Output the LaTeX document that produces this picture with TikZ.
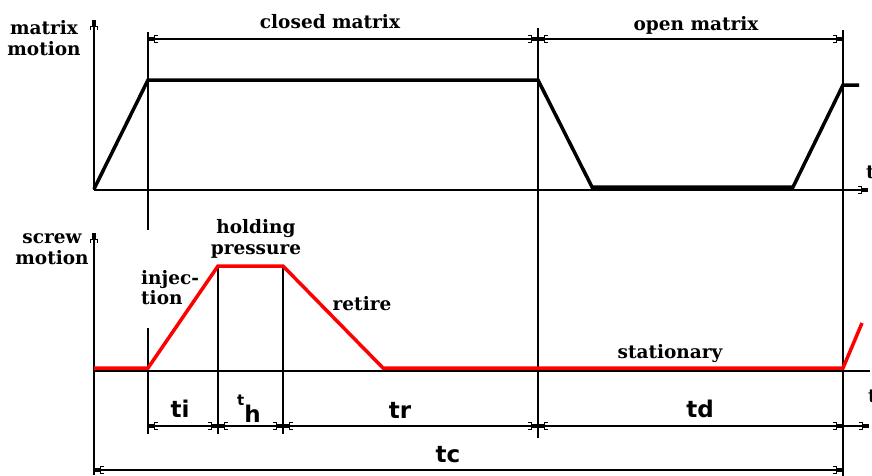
\documentclass[tikz,border=0pt]{standalone}
\usepackage{fontspec}
\setmainfont{DejaVu Serif}
\newfontfamily\dimfont{DejaVu Sans}
\usetikzlibrary{arrows.meta}
\tikzset{
  dimtip/.tip={Bracket[width=8pt,length=3.5pt,line width=1pt] Square[length=6pt,width=4.5pt]},
  thinln/.style={line width=1.5pt},
  dimln/.style={line width=1.2pt,{dimtip}-{dimtip}},
  curve/.style={line width=3.5pt,line join=miter},
  redcurve/.style={line width=3.5pt,red},
  lbl/.style={font=\bfseries\fontsize{18.5}{20.5}\selectfont,align=center,inner sep=0pt},
  dlbl/.style={font=\dimfont\bfseries\fontsize{23}{25}\selectfont,inner sep=0pt},
}
\begin{document}
\begin{tikzpicture}[x=1pt,y=-1pt]
\useasboundingbox (0,0) rectangle (872,475);
% key coordinates
\coordinate (A0) at (94,189);
\coordinate (A1) at (148,80);
\coordinate (A2) at (538,80);
\coordinate (A3) at (592,187);
\coordinate (A4) at (793,187);
\coordinate (A5) at (843,85);
\coordinate (A6) at (859,85);
\coordinate (R0) at (94,368);
\coordinate (R1) at (148,368);
\coordinate (R2) at (218,266);
\coordinate (R3) at (283,266);
\coordinate (R4) at (383,368);
\coordinate (R5) at (843,368);
\coordinate (R6) at (862,323);
% axes
\coordinate (UAb) at (94,190);
\coordinate (UAt) at (94,20);
\coordinate (UAr) at (868,190);
\coordinate (LAb) at (94,475);
\coordinate (LAt) at (94,233);
\coordinate (LAo) at (94,371);
\coordinate (LAr) at (870,371);
\draw[thinln,-{dimtip}] (UAb) -- (UAt);
\draw[thinln,-{dimtip}] (UAb) -- (UAr);
\draw[thinln,-{dimtip}] (LAb) -- (LAt);
\draw[thinln] (LAo) -- (LAr);
% vertical guide lines
\coordinate (V1a) at (148,32);  \coordinate (V1b) at (148,230);
\coordinate (V1c) at (148,328); \coordinate (V1d) at (148,434);
\coordinate (V2b) at (218,434); \coordinate (V3b) at (283,434);
\coordinate (V4a) at (538,28);  \coordinate (V4b) at (538,438);
\coordinate (V5a) at (843,30);  \coordinate (V5b) at (843,476);
\draw[thinln] (V1a) -- (V1b);
\draw[thinln] (V1c) -- (V1d);
\draw[thinln] (R2) -- (V2b);
\draw[thinln] (R3) -- (V3b);
\draw[thinln] (V4a) -- (V4b);
\draw[thinln] (V5a) -- (V5b);
% curves
\draw[curve] (A0) -- (A1) -- (A2) -- (A3) -- (A4) -- (A5) -- (A6);
\draw[redcurve] (R0) -- (R1) -- (R2) -- (R3) -- (R4) -- (R5) -- (R6);
% dimension lines
\coordinate (D1) at (148,39); \coordinate (D2) at (538,39); \coordinate (D3) at (843,39);
\draw[dimln] (D1) -- (D2);
\draw[dimln] (D2) -- (D3);
\coordinate (E1) at (148,426); \coordinate (E2) at (218,426); \coordinate (E3) at (283,426);
\coordinate (E4) at (538,426); \coordinate (E5) at (843,426); \coordinate (E6) at (869,426);
\draw[dimln] (E1) -- (E2);
\draw[dimln] (E2) -- (E3);
\draw[dimln] (E3) -- (E4);
\draw[dimln] (E4) -- (E5);
\draw[line width=1.2pt,-{dimtip}] (E5) -- (E6);
\coordinate (C1) at (94,470); \coordinate (C2) at (843,470);
\draw[dimln] (C1) -- (C2);
% labels
\node[lbl] (mm) at (44,38) {matrix\\motion};
\node[lbl,anchor=base] (cm) at (330,28) {closed matrix};
\node[lbl,anchor=base] (om) at (696,30) {open matrix};
\node[lbl,anchor=base west] (tt) at (866,178) {t};
\node[lbl,anchor=base west] (tb) at (868,402) {t};
\node[lbl] (sm) at (52,249) {screw\\motion};
\node[lbl] (hp) at (256,239) {holding\\pressure};
\node[lbl,align=left,anchor=north west] (inj) at (141,270) {injec-\\tion};
\node[lbl,anchor=base] (ret) at (362,310) {retire};
\node[lbl,anchor=base] (sta) at (670,358) {stationary};
\node[dlbl,anchor=base] (ti) at (180,417) {ti};
\node[dlbl,anchor=base] (th) at (249,422) {\raisebox{17pt}{\fontsize{15}{15}\selectfont t}h};
\node[dlbl,anchor=base] (tr) at (400,418) {tr};
\node[dlbl,anchor=base] (td) at (700,417) {td};
\node[dlbl,anchor=base] (tc) at (448,462) {tc};
\end{tikzpicture}
\end{document}
